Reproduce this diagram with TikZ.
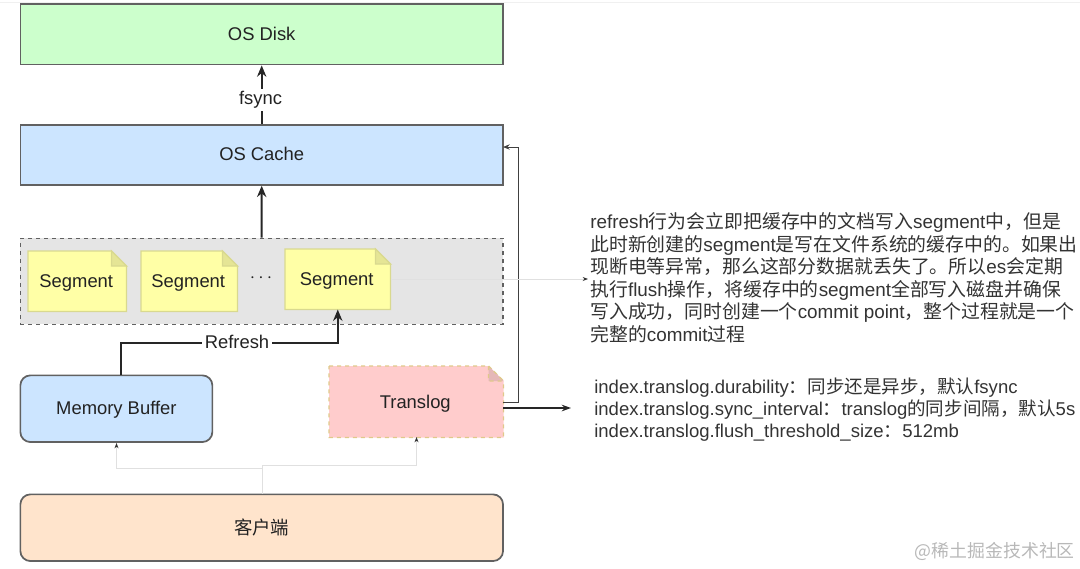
\documentclass[tikz,border=0pt]{standalone}
\usepackage{fontspec}
\setmainfont{Liberation Sans}
\newfontfamily\cjk{Noto Sans CJK SC}
\usetikzlibrary{arrows.meta,calc}
\newcommand{\C}[1]{{\cjk #1}}
\newcommand{\fs}{\fontsize{13.8pt}{16pt}\selectfont}
\definecolor{txt}{HTML}{222222}
\definecolor{diskfill}{HTML}{CCFFCC}
\definecolor{bluefill}{HTML}{CCE5FF}
\definecolor{orangefill}{HTML}{FFE4CC}
\definecolor{segfill}{HTML}{FFFFA6}
\definecolor{segdraw}{HTML}{D9D98F}
\definecolor{tlfill}{HTML}{FFCCCC}
\definecolor{tldraw}{HTML}{E0C98A}
\tikzset{
  every node/.style={font=\fs,text=txt},
  box/.style={draw=black!62,line width=1.3pt,inner sep=0pt},
  notebase/.style={inner sep=0pt},
  conn/.style={draw=black!85,line width=1.4pt,-{Stealth[length=8.5pt,width=7pt]}},
  thin conn/.style={draw=black!75,line width=.75pt,-{Stealth[length=5pt,width=4pt]}},
  faint/.style={draw=black!12,line width=.75pt,-{Stealth[length=4pt,width=3pt,color=black!80]}},
  para/.style={anchor=base west,inner sep=0pt,text=black!80,font=\fontsize{14.15pt}{16pt}\selectfont},
  parb/.style={anchor=base west,inner sep=0pt,text=black!80,font=\fontsize{13.9pt}{16pt}\selectfont},
}
% \notebox{name}{x}{y}{w}{h}{text}{fill}{draw}{extra}
\newcommand{\notebox}[9]{%
  \node[notebase,minimum width=#4*.75pt,minimum height=#5*.75pt,anchor=north west] (#1) at (#2,#3) {};
  \path[fill=#7,draw=#8,#9]
    (#1.north west) -- ($(#1.north east)+(-15,0)$) -- ($(#1.north east)+(0,15)$) -- (#1.south east) -- (#1.south west) -- cycle;
  \path[fill=#7!90!black,draw=#8,#9] ($(#1.north east)+(-15,0)$) -- ($(#1.north east)+(-15,15)$) -- ($(#1.north east)+(0,15)$) -- cycle;
  \node (#1label) at ($(#1.center)+(-1,2)$) {#6};
}
\begin{document}
\begin{tikzpicture}[x=.75pt,y=-.75pt]
\useasboundingbox (0,0) rectangle (1080,568);
\coordinate (topl) at (0,2); \coordinate (topr) at (1080,2);
\draw[black!6,line width=.75pt] (topl) -- (topr);

\node[box,fill=diskfill,minimum width=362pt,minimum height=45.5pt,anchor=north west] (disk) at (19.5,3) {OS Disk};
\node[box,fill=bluefill,minimum width=362pt,minimum height=45pt,anchor=north west] (cache) at (19.5,124) {};
\node (cachelabel) at ($(cache.center)+(0,-1)$) {OS Cache};
\node[box,dashed,line width=1.1pt,fill=black!10,minimum width=362pt,minimum height=64.5pt,anchor=north west] (group) at (19.5,237.5) {};

\notebox{sa}{28}{251}{98}{60}{Segment}{segfill}{segdraw}{line width=1pt}
\notebox{sb}{141}{251}{96}{60}{Segment}{segfill}{segdraw}{line width=1pt}
\notebox{sc}{285}{249}{105}{60}{Segment}{segfill}{segdraw}{line width=1pt}
\node[inner sep=0pt] (dots) at (261,278) {$\cdots$};

\node[box,rounded corners=7.5pt,fill=bluefill,minimum width=144pt,minimum height=50pt,anchor=north west] (mem) at (19.5,374.5) {};
\node (memlabel) at ($(mem.center)+(0,1.5)$) {Memory Buffer};
\notebox{tl}{329}{366}{174}{71}{Translog}{tlfill}{tldraw}{dashed,line width=1pt}
\node[box,rounded corners=7.5pt,fill=orangefill,minimum width=362pt,minimum height=50pt,anchor=north west] (client) at (19.5,493.5) {\C{客户端}};

% connectors
\draw[conn] (cache.north) -- (disk.south);
\node[fill=white,inner sep=2pt] (fsync) at (260.5,100) {fsync};
\draw[conn] (group.north) -- (cache.south);

\coordinate (rb) at (121,343);
\coordinate (rc) at (sc.south |- rb);
\draw[conn] (mem.north -| rb) -- (rb) -- (rc) -- (sc.south);
\node[fill=white,inner sep=2pt] (refresh) at (237,342) {Refresh};

\coordinate (ta) at (503,402);
\coordinate (tb) at (518,402);
\coordinate (tc) at (518,147);
\coordinate (td) at (503,147);
\draw[thin conn] (ta) -- (tb) -- (tc) -- (td);
\coordinate (te) at (503,408);
\coordinate (tf) at (571,408);
\draw[draw=black!85,line width=1.1pt,-{Stealth[length=7pt,width=5pt]}] (te) -- (tf);
\coordinate (sf) at (588,279);
\draw[faint] (sc.east |- sf) -- (sf);

\coordinate (ca) at (262,494);
\coordinate (cb) at (262,465.5);
\coordinate (cc) at (416.5,465.5);
\coordinate (cd) at (416.5,437);
\coordinate (ce) at (262,468.5);
\coordinate (cf) at (116.5,468.5);
\coordinate (cg) at (116.5,443);
\draw[faint] (ca) -- (cb) -- (cc) -- (cd);
\draw[faint] (ce) -- (cf) -- (cg);

% right-hand text
\node[para] (l1) at (590,228) {refresh\C{行为会立即把缓存中的文档写入}segment\C{中，但是}};
\node[para] (l2) at (590,251) {\C{此时新创建的}segment\C{是写在文件系统的缓存中的。如果出}};
\node[para] (l3) at (590,273) {\C{现断电等异常，那么这部分数据就丢失了。所以}es\C{会定期}};
\node[para] (l4) at (590,296) {\C{执行}flush\C{操作，将缓存中的}segment\C{全部写入磁盘并确保}};
\node[para] (l5) at (590,318) {\C{写入成功，同时创建一个}commit point\C{，整个过程就是一个}};
\node[para] (l6) at (590,341) {\C{完整的}commit\C{过程}};
\node[parb] (m1) at (594,393) {index.translog.durability\C{：同步还是异步，默认}fsync};
\node[parb] (m2) at (594,415) {index.translog.sync\_interval\C{：}translog\C{的同步间隔，默认}5s};
\node[parb] (m3) at (594,437) {index.translog.flush\_threshold\_size\C{：}512mb};
\node[anchor=base east,inner sep=0pt,text=black!28,font=\fontsize{13.4pt}{15pt}\selectfont] (wm) at (1075,557) {\C{@稀土掘金技术社区}};
\end{tikzpicture}
\end{document}
